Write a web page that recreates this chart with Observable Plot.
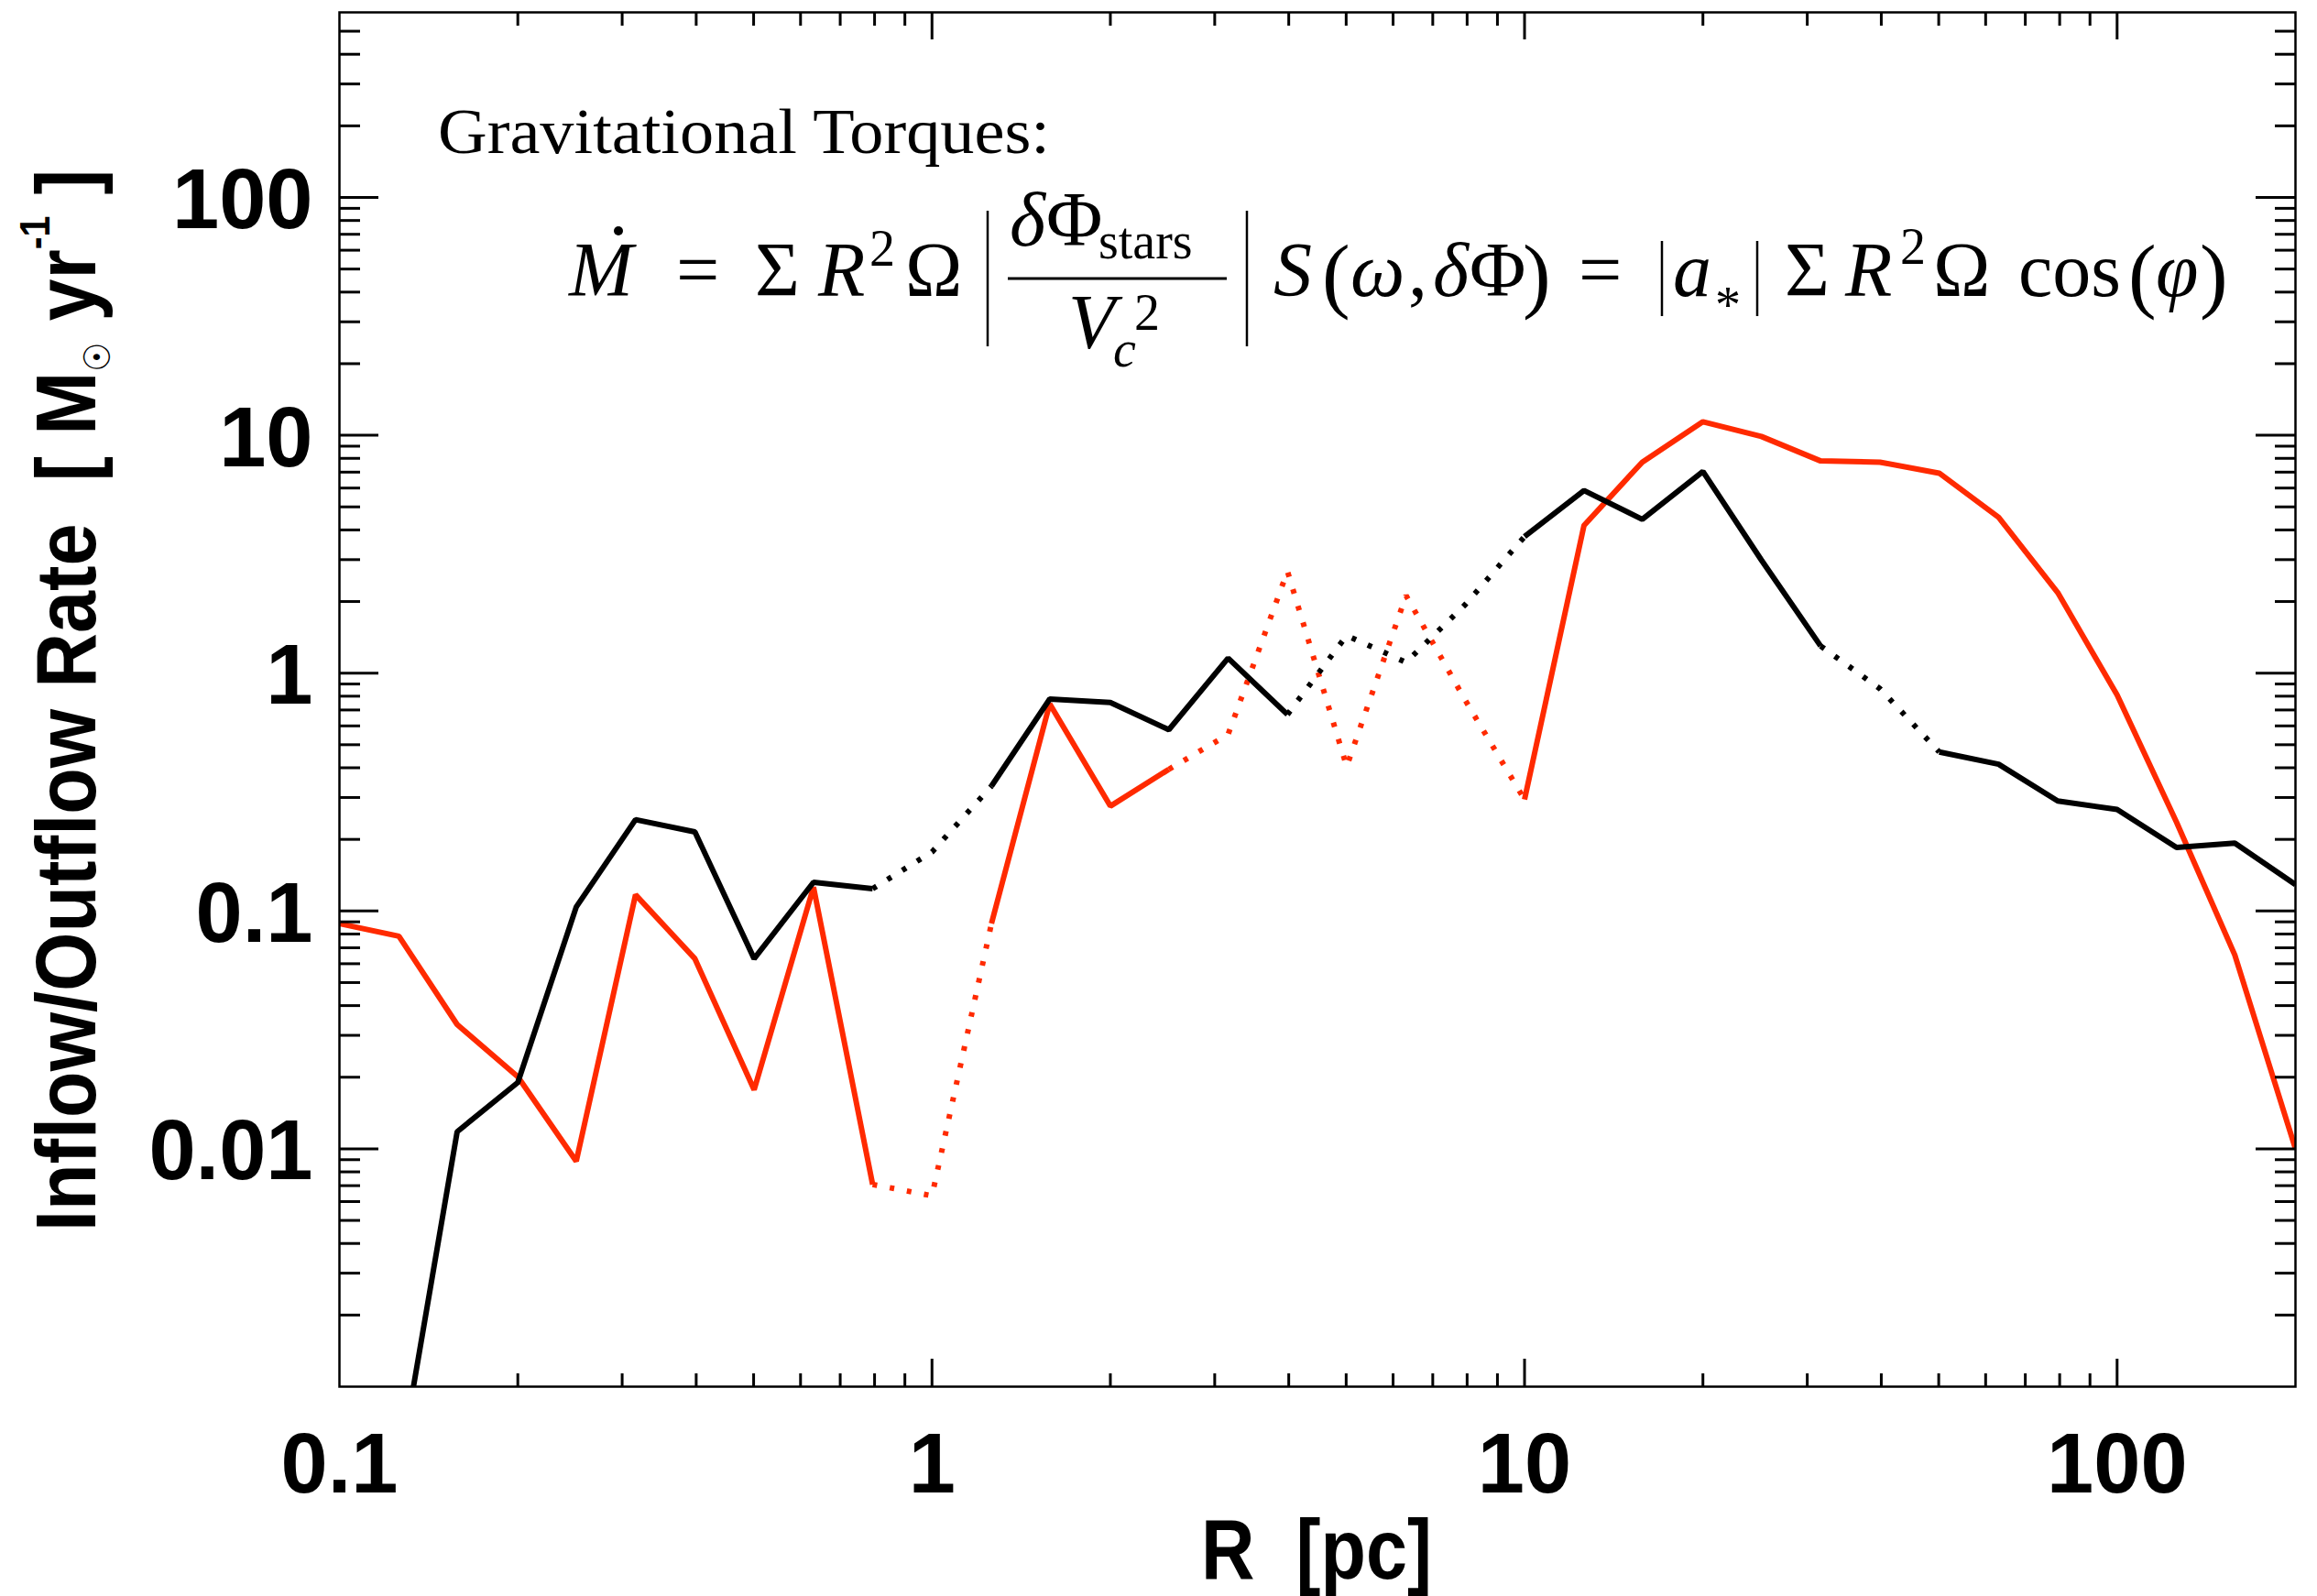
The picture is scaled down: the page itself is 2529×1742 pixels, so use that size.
<!DOCTYPE html>
<html><head><meta charset="utf-8">
<script src="https://cdn.jsdelivr.net/npm/d3@7"></script>
<script src="https://cdn.jsdelivr.net/npm/@observablehq/plot@0.6"></script>
<style>html,body{margin:0;padding:0;background:#fff;} #chart{width:2529px;height:1742px;overflow:hidden}</style>
</head><body><div id="chart"></div>
<script>
// ---- data ----
const radiusPc = [0.1, 0.126, 0.158, 0.2, 0.251, 0.316, 0.398, 0.501, 0.631, 0.794,
                  1, 1.26, 1.58, 2, 2.51, 3.16, 3.98, 5.01, 6.31, 7.94,
                  10, 12.6, 15.8, 20, 25.1, 31.6, 39.8, 50.1, 63.1, 79.4,
                  100, 126, 158, 200];
// signed rates in Msun/yr: positive = inflow (solid), negative = outflow (dotted)
const rateRed = [0.0885, 0.0783, 0.0333, 0.0201, 0.00887, 0.117, 0.063, 0.0177, 0.126, 0.00708,
                 -0.00635, 0.0885, 0.743, 0.276, 0.394, -0.552, -2.68, -0.405, -2.12, -0.77,
                 0.294, 4.18, 7.71, 11.4, 9.89, 7.8, 7.71, 6.93, 4.52, 2.18,
                 0.81, 0.236, 0.0653, 0.01];
const rateBlack = [null, 0.00044, 0.0118, 0.019, 0.104, 0.242, 0.215, 0.063, 0.132, 0.124,
                   -0.177, 0.335, 0.778, 0.753, 0.578, 1.156, 0.67, -1.44, -1.11, -1.94,
                   3.75, 5.86, 4.43, 7.04, 2.99, 1.30, -0.86, 0.466, 0.414, 0.29,
                   0.267, 0.185, 0.193, 0.129];
const xTickLabels = [0.1, 1, 10, 100];
const yTickLabels = [0.01, 0.1, 1, 10, 100];
const xDomain = [0.1, 200];
const yDomain = [0.001, 600];

const RED = "#ff2a00";

// build solid / dotted runs: a segment is dotted when either end is an outflow
function runs(name, xs, vs) {
  const out = [];
  let run = 0, prev = null;
  for (let i = 0; i < xs.length - 1; i++) {
    const a = vs[i], b = vs[i + 1];
    if (a == null || b == null) { prev = null; continue; }
    const style = (a < 0 || b < 0) ? "dotted" : "solid";
    if (style !== prev) {
      run++; prev = style;
      out.push({series: name, run: name + run, style, x: xs[i], y: Math.abs(a)});
    }
    out.push({series: name, run: name + run, style, x: xs[i + 1], y: Math.abs(b)});
  }
  return out;
}
const redRows = runs("red", radiusPc, rateRed);
const blackRows = runs("black", radiusPc, rateBlack);

const W = 2529, H = 1742, ML = 370, MR = 24, MT = 13, MB = 229;
const PW = W - ML - MR, PH = H - MT - MB;

const isMajor = d => Math.abs(Math.log10(d) - Math.round(Math.log10(d))) < 1e-9;
const yAll = d3.scaleLog().domain(yDomain).ticks().filter(d => d > yDomain[0] && d < yDomain[1]);
const xAll = d3.scaleLog().domain(xDomain).ticks().filter(d => d > xDomain[0] && d < xDomain[1]);
const yMaj = yAll.filter(isMajor), yMin = yAll.filter(d => !isMajor(d));
const xMaj = xAll.filter(isMajor), xMin = xAll.filter(d => !isMajor(d));

const lineOpts = (stroke, dotted) => ({
  x: "x", y: "y", z: "run", stroke, strokeWidth: 6, clip: true,
  strokeLinejoin: "miter", strokeLinecap: "butt",
  ...(dotted ? {strokeDasharray: "5,14"} : {})
});
const tk = {stroke: "black", strokeWidth: 3};

const svg = Plot.plot({
  width: W, height: H,
  marginLeft: ML, marginRight: MR, marginTop: MT, marginBottom: MB,
  style: {background: "white", fontFamily: "Liberation Sans, Arial, sans-serif"},
  x: {type: "log", domain: xDomain},
  y: {type: "log", domain: yDomain},
  marks: [
    Plot.line(redRows.filter(d => d.style === "solid"), lineOpts(RED, false)),
    Plot.line(redRows.filter(d => d.style === "dotted"), lineOpts(RED, true)),
    Plot.line(blackRows.filter(d => d.style === "solid"), lineOpts("black", false)),
    Plot.line(blackRows.filter(d => d.style === "dotted"), lineOpts("black", true)),
    // inward ticks on all four sides
    Plot.tickY(yMaj, {y: d => d, insetRight: PW - 43, ...tk}),
    Plot.tickY(yMin, {y: d => d, insetRight: PW - 23, ...tk}),
    Plot.tickY(yMaj, {y: d => d, insetLeft: PW - 43, ...tk}),
    Plot.tickY(yMin, {y: d => d, insetLeft: PW - 22, ...tk}),
    Plot.tickX(xMaj, {x: d => d, insetTop: PH - 30, ...tk}),
    Plot.tickX(xMin, {x: d => d, insetTop: PH - 14, ...tk}),
    Plot.tickX(xMaj, {x: d => d, insetBottom: PH - 30, ...tk}),
    Plot.tickX(xMin, {x: d => d, insetBottom: PH - 15, ...tk}),
    Plot.frame({stroke: "black", strokeWidth: 2.5}),
    Plot.axisX(xTickLabels, {anchor: "bottom", tickSize: 0, tickPadding: 50, fontSize: 92,
      fontWeight: "bold", fill: "black", tickFormat: d => String(d), label: null}),
    Plot.axisY(yTickLabels, {anchor: "left", tickSize: 0, tickPadding: 29, fontSize: 92, dy: 4,
      fontWeight: "bold", fill: "black", tickFormat: d => String(d), label: null})
  ]
});
document.getElementById("chart").appendChild(svg);

// ---- axis titles & annotation (real text) ----
const s = d3.select(svg);
const sans = "Liberation Sans, Arial, DejaVu Sans, sans-serif";
const serif = "Liberation Serif, Times New Roman, DejaVu Serif, serif";

s.append("text")
  .attr("transform", "translate(1437,1723) scale(0.88,1)")
  .attr("text-anchor", "middle").attr("font-family", sans).attr("font-weight", "bold")
  .attr("font-size", 92).attr("fill", "black").style("white-space", "pre")
  .text("R  [pc]");

const yl = s.append("text")
  .attr("transform", "translate(104,764.5) rotate(-90) scale(0.9,1)")
  .attr("text-anchor", "middle").attr("font-family", sans).attr("font-weight", "bold")
  .attr("font-size", 92).attr("fill", "black").style("white-space", "pre");
yl.append("tspan").text("Inflow/Outflow Rate  [ M");
yl.append("tspan").attr("font-size", 40).attr("font-weight", "normal").attr("dy", 16).text("\u2609");
yl.append("tspan").attr("dy", -16).text(" yr");
yl.append("tspan").attr("font-size", 46).attr("dy", -50).text("-1");
yl.append("tspan").attr("dy", 50).text(" ]");

s.append("text").attr("x", 478).attr("y", 167).attr("text-anchor", "start")
  .attr("font-family", serif).attr("font-size", 70).attr("fill", "black")
  .attr("textLength", 668).attr("lengthAdjust", "spacingAndGlyphs")
  .text("Gravitational Torques:");

const F = 84, f = 56;
const pieces = [
  {t: "M", x: 621, y: 323, it: 1},
  {t: "=", x: 738, y: 323},
  {t: "\u03A3", x: 824, y: 323},
  {t: "R", x: 893, y: 323, it: 1},
  {t: "2", x: 949, y: 290, s: f},
  {t: "\u03A9", x: 988, y: 323},
  {t: "\u03B4", x: 1102, y: 268, it: 1},
  {t: "\u03A6", x: 1142, y: 268},
  {t: "stars", x: 1199, y: 282, s: f},
  {t: "V", x: 1166, y: 380, it: 1},
  {t: "2", x: 1238, y: 360, s: f},
  {t: "c", x: 1215, y: 400, s: f, it: 1},
  {t: "S", x: 1390, y: 323, it: 1},
  {t: "(", x: 1443, y: 330, s: 92},
  {t: "\u03C9", x: 1474, y: 323, it: 1},
  {t: ",", x: 1537, y: 323},
  {t: "\u03B4", x: 1564, y: 323, it: 1},
  {t: "\u03A6", x: 1604, y: 323},
  {t: ")", x: 1662, y: 330, s: 92},
  {t: "=", x: 1723, y: 323},
  {t: "a", x: 1826, y: 323, it: 1},
  {t: "*", x: 1872, y: 352, s: f},
  {t: "\u03A3", x: 1948, y: 323},
  {t: "R", x: 2014, y: 323, it: 1},
  {t: "2", x: 2074, y: 288, s: f},
  {t: "\u03A9", x: 2110, y: 323},
  {t: "cos", x: 2203, y: 323},
  {t: "(", x: 2323, y: 330, s: 92},
  {t: "\u03C6", x: 2353, y: 323, it: 1},
  {t: ")", x: 2401, y: 330, s: 92}
];
const eq = s.append("g").attr("font-family", serif).attr("fill", "black").attr("text-anchor", "start");
for (const p of pieces) {
  eq.append("text").attr("x", p.x).attr("y", p.y).attr("font-size", p.s || F)
    .attr("text-anchor", "start")
    .attr("font-style", p.it ? "italic" : "normal").text(p.t);
}
// dot accent over M (time derivative)
eq.append("circle").attr("cx", 675).attr("cy", 252).attr("r", 5).attr("fill", "black");
const bars = [
  [1078, 230, 1078, 378], [1361, 230, 1361, 378],
  [1100, 304, 1339, 304],
  [1814, 263, 1814, 345], [1918, 263, 1918, 345]
];
for (const [x1, y1, x2, y2] of bars) {
  eq.append("line").attr("x1", x1).attr("y1", y1).attr("x2", x2).attr("y2", y2)
    .attr("stroke", "black").attr("stroke-width", x1 === x2 ? 2.5 : 3);
}
</script>
</body></html>
